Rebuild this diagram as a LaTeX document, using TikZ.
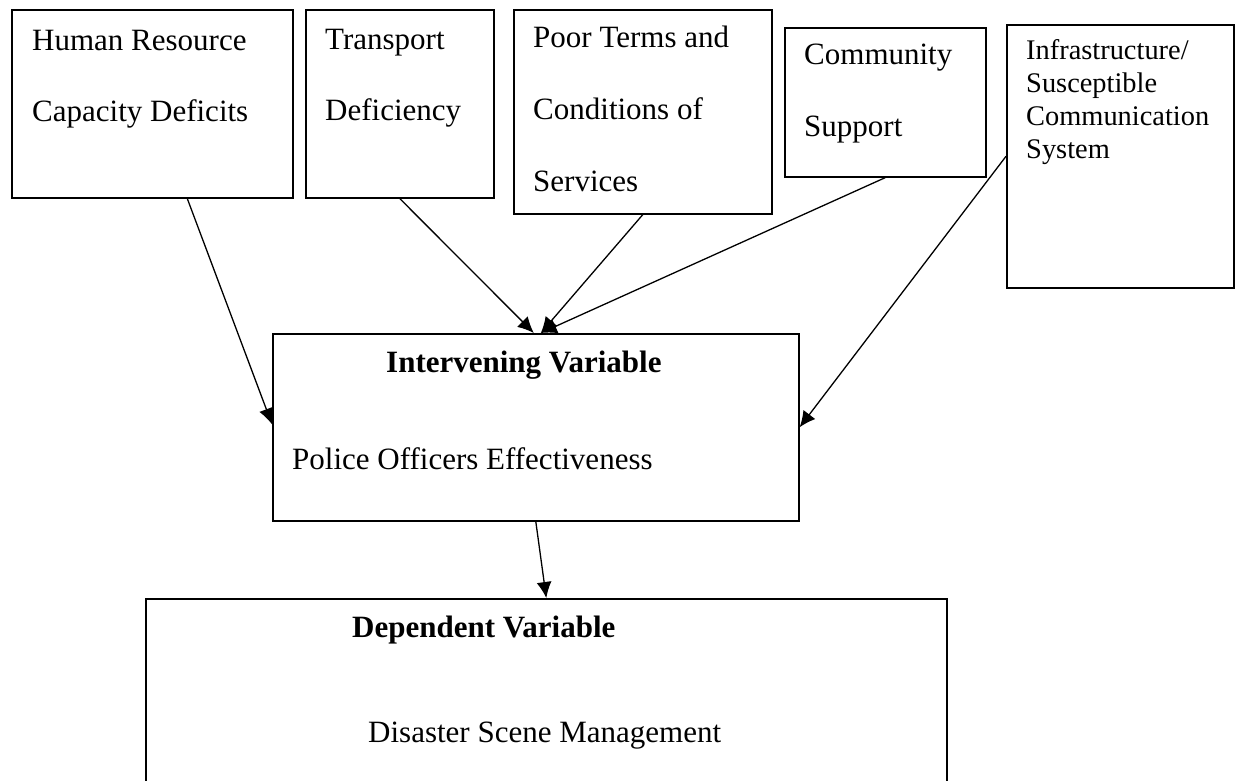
\documentclass[tikz,border=0pt]{standalone}
\usepackage{fontspec}
\setmainfont{Liberation Serif}
\usetikzlibrary{arrows.meta, calc}

% stacked lines, baseline on the first one
\newcommand{\boxlines}[1]{\begin{tabular}[t]{@{}l@{}}#1\end{tabular}}

\tikzset{
    varbox/.style={draw, line width=1.6pt, anchor=north west, inner sep=0pt},
    vartext/.style={anchor=base west, inner sep=0pt, font=\fontsize{31}{71}\selectfont},
    smalltext/.style={anchor=base west, inner sep=0pt, font=\fontsize{28.4}{33}\selectfont},
    link/.style={line width=1.3pt, -{Latex[length=16pt,width=15pt]}}
}

\begin{document}
\begin{tikzpicture}[x=1pt, y=-1pt]
    \useasboundingbox (0,0) rectangle (1241,780);
    \clip (0,0) rectangle (1241,780);

    % Independent variables (top row)
    \node[varbox, minimum width=281pt, minimum height=188pt] (hr) at (11,9) {};
    \node[varbox, minimum width=188pt, minimum height=188pt] (tr) at (305,9) {};
    \node[varbox, minimum width=258pt, minimum height=204pt] (pt) at (513,9) {};
    \node[varbox, minimum width=201pt, minimum height=149pt] (cs) at (784,27) {};
    \node[varbox, minimum width=227pt, minimum height=263pt] (inf) at (1006,24) {};

    \node[vartext] (hrtext) at (32,50) {\boxlines{Human Resource\\Capacity Deficits}};
    \node[vartext] (trtext) at (325,49) {\boxlines{Transport\\Deficiency}};
    \node[vartext, font=\fontsize{31}{72}\selectfont] (pttext) at (533,47) {\boxlines{Poor Terms and\\Conditions of\\Services}};
    \node[vartext, font=\fontsize{31}{72}\selectfont] (cstext) at (804,64) {\boxlines{Community\\Support}};
    \node[smalltext] (inftext) at (1026,59) {\boxlines{Infrastructure/\\Susceptible\\Communication\\System}};

    % Intervening variable
    \node[varbox, minimum width=526pt, minimum height=187pt] (iv) at (272,333) {};
    \node[vartext, font=\fontsize{31}{71}\selectfont\bfseries] (ivtitle) at (386,372) {Intervening Variable};
    \node[vartext] (ivtext) at (292,469) {Police Officers Effectiveness};

    % Dependent variable (runs off the bottom)
    \node[varbox, minimum width=801pt, minimum height=230pt] (dv) at (145,598) {};
    \node[vartext, font=\fontsize{31}{71}\selectfont\bfseries] (dvtitle) at (352,637) {Dependent Variable};
    \node[vartext] (dvtext) at (368,742) {Disaster Scene Management};

    % Links
    \draw[link] ($(hr.south)+(35,0)$) -- ($(iv.west)+(0,-3)$);
    \draw[link] (tr.south) -- ($(iv.north)+(-2,0)$);
    \draw[link] (pt.south) -- ($(iv.north)+(5,0)$);
    \draw[link] (cs.south) -- ($(iv.north)+(5,0)$);
    \draw[link] (inf.west) -- (iv.east);
    \draw[link] (iv.south) -- (dv.north);
\end{tikzpicture}
\end{document}
